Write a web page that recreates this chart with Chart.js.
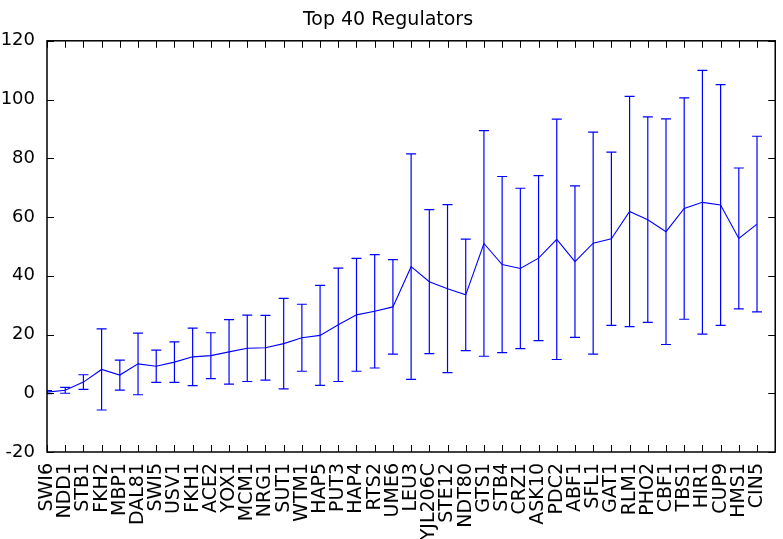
<!DOCTYPE html>
<html>
<head>
<meta charset="utf-8">
<script src="https://cdn.jsdelivr.net/npm/chart.js@4.4.0/dist/chart.umd.min.js"></script>
<style>
  html, body { margin: 0; padding: 0; background: #fff; }
  #wrap { width: 783px; height: 539px; }
</style>
</head>
<body>
<div id="wrap"><canvas id="chart"></canvas></div>
<script>
const regulators = ['SWI6', 'NDD1', 'STB1', 'FKH2', 'MBP1', 'DAL81', 'SWI5', 'USV1', 'FKH1', 'ACE2',
  'YOX1', 'MCM1', 'NRG1', 'SUT1', 'WTM1', 'HAP5', 'PUT3', 'HAP4', 'RTS2', 'UME6',
  'LEU3', 'YJL206C', 'STE12', 'NDT80', 'GTS1', 'STB4', 'CRZ1', 'ASK10', 'PDC2', 'ABF1',
  'SFL1', 'GAT1', 'RLM1', 'PHO2', 'CBF1', 'TBS1', 'HIR1', 'CUP9', 'HMS1', 'CIN5'];

// mean score per regulator
const meanScores = [0.4, 1.0, 3.8, 8.1, 6.2, 10.0, 9.2, 10.6, 12.4, 12.8,
  14.1, 15.3, 15.5, 16.9, 18.9, 19.7, 23.3, 26.7, 27.9, 29.4,
  43.1, 38.0, 35.6, 33.5, 51.0, 43.8, 42.5, 46.0, 52.4, 44.8,
  51.1, 52.6, 61.9, 59.1, 55.0, 62.9, 65.0, 64.1, 52.7, 57.6];

// half-width of each error bar
const errScores = [0.5, 1.0, 2.5, 13.8, 5.1, 10.5, 5.5, 6.9, 9.8, 7.8,
  11.0, 11.3, 11.0, 15.4, 11.4, 17.0, 19.3, 19.2, 19.3, 16.1,
  38.4, 24.5, 28.6, 19.0, 38.4, 30.0, 27.3, 28.1, 40.9, 25.8,
  37.8, 29.5, 39.2, 35.0, 38.4, 37.7, 44.9, 41.0, 24.0, 29.9];

const yTicks = [-20, 0, 20, 40, 60, 80, 100, 120];

const BLUE = '#0000ff';
const FONT = 'DejaVu Sans';

// vertical error bars with caps, clipped to the plot box
const errorBars = {
  id: 'errorBars',
  afterDatasetsDraw(chart) {
    const { ctx, chartArea: a, scales: { x, y } } = chart;
    ctx.save();
    ctx.beginPath();
    ctx.rect(a.left, a.top, a.right - a.left, a.bottom - a.top);
    ctx.clip();
    ctx.strokeStyle = BLUE;
    ctx.lineWidth = 1.2;
    meanScores.forEach((m, i) => {
      const px = x.getPixelForValue(i);
      const top = y.getPixelForValue(m + errScores[i]);
      const bot = y.getPixelForValue(m - errScores[i]);
      ctx.beginPath();
      ctx.moveTo(px, top); ctx.lineTo(px, bot);
      ctx.moveTo(px - 5, top); ctx.lineTo(px + 5, top);
      ctx.moveTo(px - 5, bot); ctx.lineTo(px + 5, bot);
      ctx.stroke();
    });
    ctx.restore();
  }
};

// box around the axes plus inward tick marks on all four sides
const frame = {
  id: 'frame',
  afterDraw(chart) {
    const { ctx, chartArea: a, scales: { x, y } } = chart;
    const len = 7;
    ctx.save();
    ctx.strokeStyle = '#000';
    ctx.lineWidth = 1;
    ctx.beginPath();
    regulators.forEach((_, i) => {
      const px = Math.round(x.getPixelForValue(i)) + 0.5;
      ctx.moveTo(px, a.bottom); ctx.lineTo(px, a.bottom - len);
      ctx.moveTo(px, a.top); ctx.lineTo(px, a.top + len);
    });
    yTicks.forEach(v => {
      const py = Math.round(y.getPixelForValue(v)) + 0.5;
      ctx.moveTo(a.left, py); ctx.lineTo(a.left + len, py);
      ctx.moveTo(a.right, py); ctx.lineTo(a.right - len, py);
    });
    ctx.stroke();
    ctx.lineWidth = 1.5;
    ctx.strokeRect(a.left, a.top, a.right - a.left, a.bottom - a.top);
    ctx.restore();
  }
};

new Chart(document.getElementById('chart'), {
  type: 'line',
  data: {
    datasets: [{
      data: meanScores.map((v, i) => ({ x: i, y: v })),
      borderColor: BLUE,
      borderWidth: 1.1,
      pointRadius: 0,
      tension: 0,
      fill: false
    }]
  },
  options: {
    responsive: true,
    maintainAspectRatio: false,
    animation: false,
    layout: { padding: { right: 7 } },
    plugins: {
      legend: { display: false },
      tooltip: { enabled: false },
      title: {
        display: true,
        text: 'Top 40 Regulators',
        color: '#000',
        font: { family: FONT, size: 19, weight: 'normal' },
        padding: { top: 9, bottom: 9 }
      }
    },
    scales: {
      x: {
        type: 'linear',
        min: 0,
        max: 40,
        grid: { display: false },
        border: { display: false },
        afterBuildTicks: s => { s.ticks = regulators.map((_, i) => ({ value: i })); },
        afterFit: s => { s.height = 87; },
        ticks: {
          autoSkip: false,
          minRotation: 90,
          maxRotation: 90,
          padding: 3,
          color: '#000',
          font: { family: FONT, size: 19 },
          callback: v => regulators[v] ?? ''
        }
      },
      y: {
        min: -20,
        max: 120,
        grid: { display: false },
        border: { display: false },
        afterBuildTicks: s => { s.ticks = yTicks.map(v => ({ value: v })); },
        afterFit: s => { s.width = 47; },
        ticks: {
          padding: 4,
          color: '#000',
          font: { family: FONT, size: 18 }
        }
      }
    }
  },
  plugins: [errorBars, frame]
});
</script>
</body>
</html>
